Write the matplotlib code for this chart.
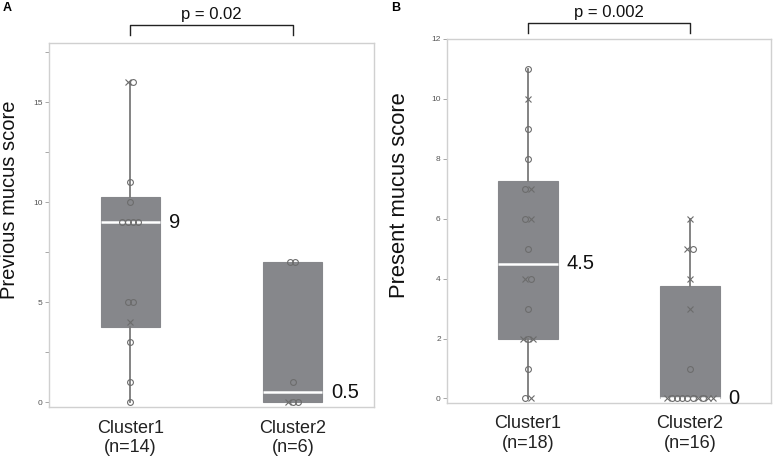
import numpy as np
import matplotlib.pyplot as plt

plt.rcParams['font.family'] = ['Liberation Sans', 'DejaVu Sans']

# Panel A: previous mucus score
prev_c1 = [16, 16, 11, 10, 9, 9, 9, 9, 5, 5, 4, 3, 1, 0]
prev_c1_mk = ['x', 'o', 'o', 'o', 'o', 'o', 'o', 'o', 'o', 'o', 'x', 'o', 'o', 'o']
prev_c2 = [7, 7, 1, 0, 0, 0]
prev_c2_mk = ['o', 'o', 'o', 'x', 'o', 'o']

# Panel B: present mucus score
pres_c1 = [11, 10, 9, 8, 7, 7, 6, 6, 5, 4, 4, 3, 2, 2, 2, 1, 0, 0]
pres_c1_mk = ['o', 'x', 'o', 'o', 'o', 'x', 'o', 'x', 'o', 'x', 'o', 'o',
              'x', 'o', 'x', 'o', 'o', 'x']
pres_c2 = [6, 5, 5, 4, 3, 1, 0, 0, 0, 0, 0, 0, 0, 0, 0, 0]
pres_c2_mk = ['x', 'x', 'o', 'x', 'x', 'o', 'x', 'o', 'o', 'o', 'o', 'o',
              'x', 'o', 'x', 'x']

labels_a = ['Cluster1\n(n=14)', 'Cluster2\n(n=6)']
labels_b = ['Cluster1\n(n=18)', 'Cluster2\n(n=16)']
ylabel_a = 'Previous mucus score'
ylabel_b = 'Present mucus score'
p_a = 'p = 0.02'
p_b = 'p = 0.002'

BOX_COLOR = '#86878b'
PT_COLOR = '#6c6c6c'


def box_stats(vals):
    v = np.array(vals, dtype=float)
    q1, med, q3 = np.percentile(v, [25, 50, 75], method='weibull')
    iqr = q3 - q1
    lo = v[v >= q1 - 1.5 * iqr].min()
    hi = v[v <= q3 + 1.5 * iqr].max()
    return dict(med=med, q1=q1, q3=q3, whislo=lo, whishi=hi, fliers=[])


def jitter(vals, step=0.032):
    # spread tied values sideways
    vals = np.array(vals)
    off = np.zeros(len(vals))
    for u in np.unique(vals):
        idx = np.where(vals == u)[0]
        k = len(idx)
        off[idx] = (np.arange(k) - (k - 1) / 2) * step
    return off


def panel(ax, groups, markers, labels, ylabel, ptext, ylim, ticks, major,
          ylab_x, ylab_fs, br_y, br_leg, txt_y):
    stats = [box_stats(g) for g in groups]
    ax.bxp(stats, positions=[1, 2], widths=0.365, patch_artist=True,
           showcaps=False, showfliers=False,
           boxprops=dict(facecolor=BOX_COLOR, edgecolor=BOX_COLOR, lw=0.8),
           whiskerprops=dict(color='#7a7a7a', lw=1.3),
           medianprops=dict(color='white', lw=1.8))
    for i, (g, mk) in enumerate(zip(groups, markers)):
        xs = i + 1 + jitter(g)
        for x, y, m in zip(xs, g, mk):
            if m == 'o':
                ax.plot(x, y, 'o', ms=4.2, mfc='none', mec=PT_COLOR, mew=0.8, zorder=4)
            else:
                ax.plot(x, y, 'x', ms=3.8, color=PT_COLOR, mew=0.8, zorder=4)
        med = stats[i]['med']
        ax.annotate(f'{med:g}', xy=(i + 1 + 0.365 / 2, med), xytext=(6.5, 0),
                    textcoords='offset points', va='center', ha='left',
                    fontsize=14.5, color='#111111')

    ax.set_xlim(0.5, 2.5)
    ax.set_ylim(*ylim)
    ax.set_xticks([1, 2])
    ax.set_xticklabels(labels, fontsize=13, color='#222222')
    ax.tick_params(axis='x', length=0, pad=9)
    ax.set_yticks(ticks)
    ax.set_yticklabels([f'{t:g}' if t in major else '' for t in ticks])
    ax.tick_params(axis='y', length=3, width=0.6, color='#999999',
                   labelsize=6, labelcolor='#555555', pad=1.5)
    for s in ax.spines.values():
        s.set_color('#d0d0d0')
        s.set_linewidth(1.0)
    ax.set_ylabel(ylabel, fontsize=ylab_fs, color='#111111')
    ax.yaxis.set_label_coords(ylab_x, 0.57)

    tr = ax.get_xaxis_transform()
    ax.plot([1, 1, 2, 2], [br_leg, br_y, br_y, br_leg], color='#222222', lw=1.0,
            transform=tr, clip_on=False)
    ax.text(1.5, txt_y, ptext, transform=tr, ha='center', va='center',
            fontsize=12, color='#111111')
    return ax


fig = plt.figure(figsize=(7.74, 4.57), dpi=100)
ax_a = fig.add_axes([0.0633, 0.1094, 0.420, 0.7965])
ax_b = fig.add_axes([0.5775, 0.1182, 0.4186, 0.7965])

panel(ax_a, [prev_c1, prev_c2], [prev_c1_mk, prev_c2_mk], labels_a, ylabel_a, p_a,
      (-0.25, 17.95), np.arange(0, 17.6, 2.5), [0, 5, 10, 15],
      -0.092, 14.5, 1.049, 1.022, 1.079)
panel(ax_b, [pres_c1, pres_c2], [pres_c1_mk, pres_c2_mk], labels_b, ylabel_b, p_b,
      (-0.15, 12), np.arange(0, 13, 2), list(range(0, 13, 2)),
      -0.114, 15.8, 1.044, 1.0165, 1.074)

fig.text(3 / 774, 1 - 8 / 457, 'A', fontsize=9, fontweight='bold', va='center')
fig.text(391 / 774, 1 - 8 / 457, 'B', fontsize=9, fontweight='bold', va='center')

fig.savefig('out.png', dpi=100)
